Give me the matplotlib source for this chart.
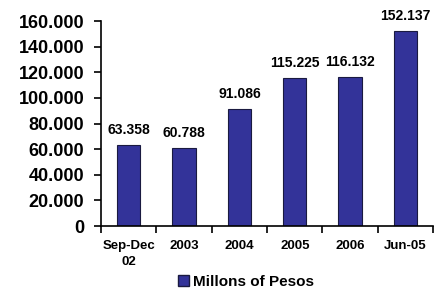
import matplotlib
matplotlib.use("Agg")
import matplotlib.pyplot as plt
import numpy as np
from matplotlib.patches import Patch
from matplotlib.ticker import FuncFormatter, MultipleLocator, FixedLocator

categories = ["Sep-Dec\n02", "2003", "2004", "2005", "2006", "Jun-05"]
values = [63358, 60788, 91086, 115225, 116132, 152137]
series_name = "Millons of Pesos"

plt.rcParams["font.family"] = ["Liberation Sans", "DejaVu Sans"]
plt.rcParams["font.weight"] = "bold"

fig = plt.figure(figsize=(4.47, 2.92), dpi=100)
ax = fig.add_axes([0.226, 0.226, 0.743, 0.702])

x = np.arange(len(categories))
ax.bar(x, values, width=0.42, color="#333399", edgecolor="#1a1a40", linewidth=0.8)

for xi, v in zip(x, values):
    ax.annotate(f"{v:,.0f}".replace(",", "."), xy=(xi, v), xytext=(0, 6),
                textcoords="offset points", ha="center", va="bottom",
                fontsize=10, fontweight="bold")

ax.set_xlim(-0.5, len(categories) - 0.5)
ax.set_ylim(0, 160000)
ax.yaxis.set_major_locator(MultipleLocator(20000))
ax.yaxis.set_major_formatter(FuncFormatter(lambda v, p: f"{v:,.0f}".replace(",", ".")))
ax.tick_params(axis="y", labelsize=13, length=5, width=1.2, direction="out", pad=7)

ax.set_xticks(x)
ax.set_xticklabels(categories, fontsize=9.5, fontweight="bold", linespacing=1.5)
ax.xaxis.set_minor_locator(FixedLocator(np.arange(-0.5, len(categories), 1.0)))
ax.tick_params(axis="x", which="major", length=0, pad=10)
ax.tick_params(axis="x", which="minor", length=5, width=1.2, direction="out")

for s in ["top", "right"]:
    ax.spines[s].set_visible(False)
for s in ["left", "bottom"]:
    ax.spines[s].set_linewidth(1.2)

handle = Patch(facecolor="#333399", edgecolor="#1a1a40", label=series_name)
fig.legend(handles=[handle], loc="center", bbox_to_anchor=(0.55, 0.035),
           frameon=False, handlelength=0.7, handleheight=0.7,
           handletextpad=0.25, prop={"weight": "bold", "size": 11})

fig.savefig("out.png", dpi=100)
